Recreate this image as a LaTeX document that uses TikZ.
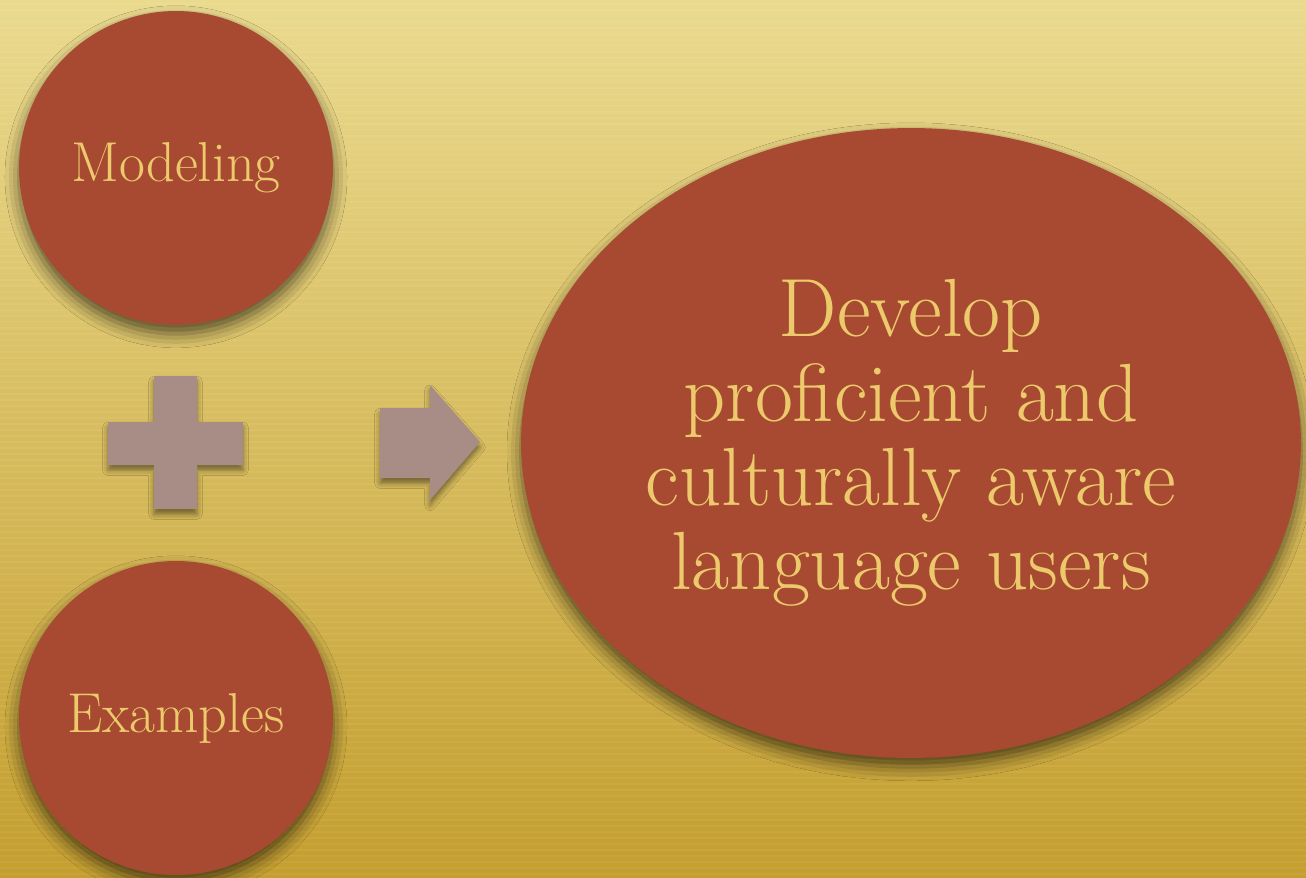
\documentclass[tikz,border=0pt]{standalone}
\usetikzlibrary{shapes.geometric,shadows.blur}
\definecolor{bgtop}{RGB}{234,218,142}
\definecolor{bgbottom}{RGB}{196,158,46}
\definecolor{brick}{RGB}{168,74,50}
\definecolor{straw}{RGB}{236,202,108}
\definecolor{mauve}{RGB}{168,141,134}
\tikzset{
  softshadow/.style={blur shadow={shadow xshift=0pt,shadow yshift=-5pt,shadow blur radius=8pt,shadow opacity=60}},
  disc/.style={circle,fill=brick,minimum size=6.28cm,inner sep=0pt,text=straw,font=\fontsize{32}{36}\selectfont,softshadow},
  goal/.style={ellipse,fill=brick,minimum width=15.6cm,minimum height=12.6cm,inner sep=0pt,text=straw,align=center,font=\fontsize{47}{48}\selectfont,softshadow},
  sign/.style={fill=mauve,blur shadow={shadow xshift=0pt,shadow yshift=-3pt,shadow blur radius=3pt,shadow opacity=45}}
}
\begin{document}
\begin{tikzpicture}[x=0.02cm,y=-0.02cm]
    \useasboundingbox (0,0) rectangle (1306,878);
    \shade[top color=bgtop,bottom color=bgbottom] (0,0) rectangle (1306,878);
    \foreach \y in {4,10,...,878}
      \draw[white,opacity=0.06,line width=0.6pt] (0,\y) -- (1306,\y);

    \node[disc] (modeling) at (176,168) {Modeling};
    \node[disc] (examples) at (176,718) {Examples};
    \node[goal] (develop) at (911,443) {Develop\\proficient and\\culturally aware\\language users};

    % plus sign
    \fill[sign] (108,422) -- (154,422) -- (154,376) -- (197,376) -- (197,422) -- (243,422)
              -- (243,465) -- (197,465) -- (197,509) -- (154,509) -- (154,465) -- (108,465) -- cycle;
    % arrow
    \fill[sign] (380,408) -- (430,408) -- (430,385) -- (480,442)
              -- (430,500) -- (430,478) -- (380,478) -- cycle;
\end{tikzpicture}
\end{document}
